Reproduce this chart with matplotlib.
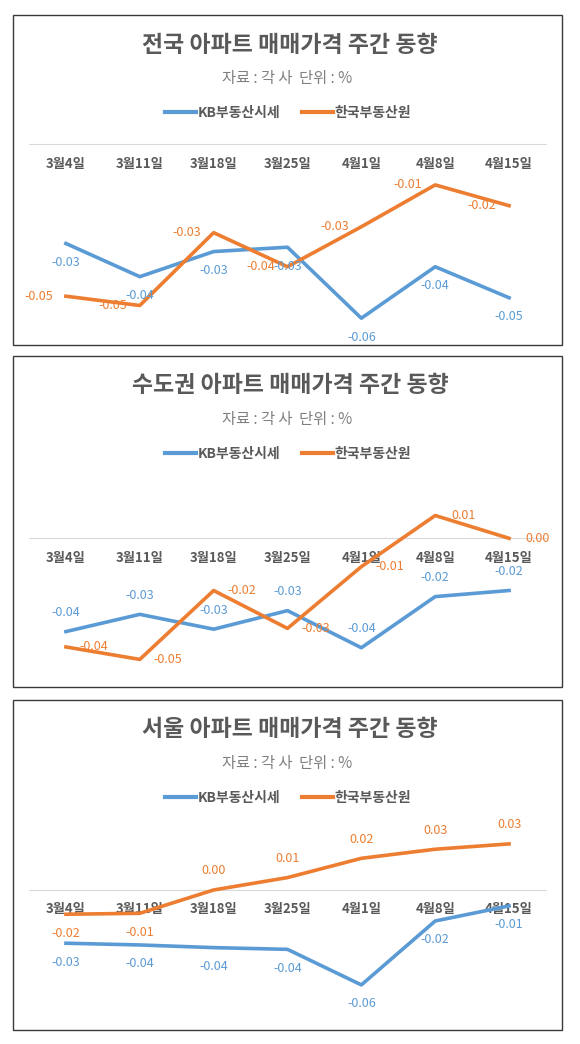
import matplotlib
matplotlib.use('Agg')
import matplotlib.pyplot as plt
from matplotlib.patches import Rectangle
from matplotlib.lines import Line2D

plt.rcParams['font.family'] = ['Noto Sans CJK KR', 'DejaVu Sans']

# 데이터
dates = ['3월4일', '3월11일', '3월18일', '3월25일', '4월1일', '4월8일', '4월15일']
series_names = ['KB부동산시세', '한국부동산원']
titles = ['전국 아파트 매매가격 주간 동향',
          '수도권 아파트 매매가격 주간 동향',
          '서울 아파트 매매가격 주간 동향']
subtitle = '자료 : 각 사  단위 : %'

kb_national = [-0.032, -0.0427, -0.0346, -0.0332, -0.0561, -0.0395, -0.0495]
reb_national = [-0.049, -0.052, -0.0285, -0.0395, -0.0266, -0.0131, -0.0198]
kb_capital = [-0.0352, -0.0287, -0.0343, -0.0273, -0.0413, -0.022, -0.0197]
reb_capital = [-0.041, -0.0457, -0.0197, -0.034, -0.0107, 0.0086, 0.0]
kb_seoul = [-0.034, -0.0351, -0.0368, -0.0379, -0.0606, -0.0198, -0.0102]
reb_seoul = [-0.0155, -0.0149, 0.0, 0.0079, 0.0202, 0.026, 0.0294]

# 색
BLUE = '#5B9BD5'
ORANGE = '#ED7D31'
DARK = '#595959'
GRAY = '#7F7F7F'

W, H = 580, 1044
def fx(x):
    return x / W
def fy(y):
    return 1 - y / H

# 레이아웃 (픽셀): 패널 위/아래, 그래프 영역 위/아래, y범위, 라벨 위치
panels = [
    dict(kb=kb_national, reb=reb_national, top=15, bottom=345,
         ax_top=144.3, ax_bot=330.3, ylim=(-0.06, 0.0),
         kb_pos=['below'] * 7, reb_pos=['left'] * 7),
    dict(kb=kb_capital, reb=reb_capital, top=356, bottom=686.7,
         ax_top=485.3, ax_bot=670.8, ylim=(-0.05, 0.02),
         kb_pos=['above'] * 7, reb_pos=['right'] * 7),
    dict(kb=kb_seoul, reb=reb_seoul, top=699.7, bottom=1030,
         ax_top=827.3, ax_bot=1015.3, ylim=(-0.08, 0.04),
         kb_pos=['below'] * 7, reb_pos=['below', 'below'] + ['above'] * 5),
]
offsets = {'above': (0, 19), 'below': (0, -19), 'left': (-27, 0), 'right': (28, 0)}

fig = plt.figure(figsize=(5.8, 10.44), dpi=100)
fig.patch.set_facecolor('white')

x = list(range(len(dates)))
for i, p in enumerate(panels):
    # 테두리
    fig.add_artist(Rectangle((fx(12.7), fy(p['bottom'])), (561.7 - 12.7) / W,
                             (p['bottom'] - p['top']) / H, transform=fig.transFigure,
                             fill=False, ec='#3a3a3a', lw=1.0))
    fig.text(fx(290), fy(p['top'] + 30), titles[i], ha='center', va='center',
             fontsize=16.5, fontweight='bold', color=DARK)
    fig.text(fx(287), fy(p['top'] + 63.5), subtitle, ha='center', va='center',
             fontsize=11, color=GRAY)

    ax = fig.add_axes([fx(29), fy(p['ax_bot']), (546 - 29) / W,
                       (p['ax_bot'] - p['ax_top']) / H])
    ax.set_xlim(-0.5, len(dates) - 0.5)
    ax.set_ylim(*p['ylim'])
    ax.plot(x, p['kb'], color=BLUE, lw=2.6, zorder=3)
    ax.plot(x, p['reb'], color=ORANGE, lw=2.6, zorder=4)

    for j in x:
        for vals, pos, c in ((p['kb'], p['kb_pos'], BLUE), (p['reb'], p['reb_pos'], ORANGE)):
            ax.annotate(f'{vals[j]:.2f}', (j, vals[j]), xytext=offsets[pos[j]],
                        textcoords='offset pixels', ha='center', va='center',
                        fontsize=9, color=c, zorder=5)

    for s in ['top', 'right', 'left']:
        ax.spines[s].set_visible(False)
    ax.spines['bottom'].set_position(('data', 0))
    ax.spines['bottom'].set_color('#D9D9D9')
    ax.spines['bottom'].set_linewidth(0.8)
    ax.set_yticks([])
    ax.set_xticks(x)
    ax.set_xticklabels(dates, fontsize=9.5, fontweight='bold', color=DARK)
    ax.tick_params(axis='x', length=0, pad=9)
    ax.patch.set_visible(False)

    handles = [Line2D([], [], color=BLUE, lw=3), Line2D([], [], color=ORANGE, lw=3)]
    leg = ax.legend(handles, series_names, loc='center',
                    bbox_to_anchor=(fx(288), fy(p['top'] + 98)),
                    bbox_transform=fig.transFigure, ncol=2, frameon=False,
                    handlelength=2.2, handletextpad=0.1, columnspacing=1.6,
                    prop={'size': 10, 'weight': 'bold'})
    for t in leg.get_texts():
        t.set_color(DARK)

fig.savefig('out.png', dpi=100, facecolor='white')
